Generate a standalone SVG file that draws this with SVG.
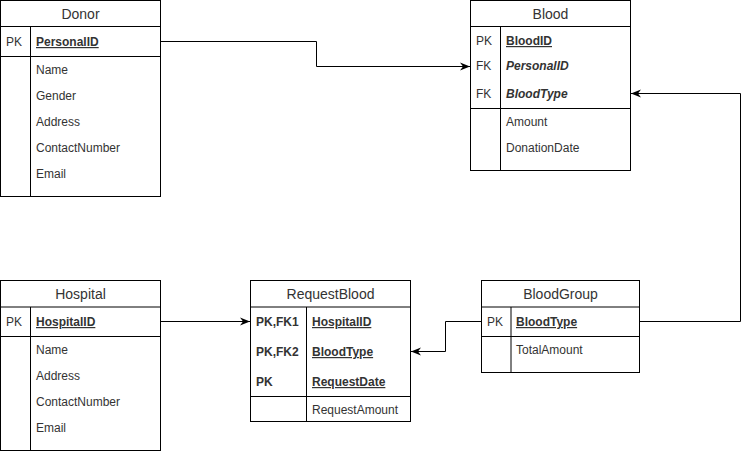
<svg xmlns="http://www.w3.org/2000/svg" width="749" height="451" viewBox="0 0 749 451">
<style>
.box{fill:#ffffff;stroke:#000000;stroke-width:1}
.ln{stroke:#000000;stroke-width:1;fill:none}
text{font-family:"Liberation Sans",Arial,sans-serif;font-size:12px;fill:#000000}
.t{font-size:14px;text-anchor:middle;fill:#333333}
.k{fill:#333333}
.f{fill:#333333}
.pk{font-weight:bold;text-decoration:underline}
.fk{font-weight:bold;font-style:italic}
.b{font-weight:bold}
.conn{stroke:#000000;stroke-width:1;fill:none}
</style>
<defs>
<marker id="arr" viewBox="0 0 10 10" refX="10" refY="5" markerWidth="10" markerHeight="10" markerUnits="userSpaceOnUse" orient="auto">
<path d="M0,1 L10,5 L0,9 L3,5 Z" fill="#000000"/>
</marker>
</defs>
<rect width="749" height="451" fill="#ffffff"/>

<g id="Donor">
<rect class="box" x="0.5" y="0.5" width="160" height="196"/>
<line class="ln" x1="0.5" y1="26.5" x2="160.5" y2="26.5"/>
<line class="ln" x1="0.5" y1="56.5" x2="160.5" y2="56.5"/>
<line class="ln" x1="30.5" y1="26.5" x2="30.5" y2="196.5"/>
<text class="t" x="80.5" y="19">Donor</text>
<text class="k" x="6" y="46">PK</text>
<text class="f pk" x="36" y="46">PersonalID</text>
<text class="f" x="36" y="74">Name</text>
<text class="f" x="36" y="100">Gender</text>
<text class="f" x="36" y="126">Address</text>
<text class="f" x="36" y="152">ContactNumber</text>
<text class="f" x="36" y="178">Email</text>
</g>

<g id="Blood">
<rect class="box" x="470.5" y="0.5" width="160" height="170"/>
<line class="ln" x1="470.5" y1="26.5" x2="630.5" y2="26.5"/>
<line class="ln" x1="470.5" y1="108.5" x2="630.5" y2="108.5"/>
<line class="ln" x1="500.5" y1="26.5" x2="500.5" y2="170.5"/>
<text class="t" x="550.5" y="19">Blood</text>
<text class="k" x="476" y="45">PK</text>
<text class="f pk" x="506" y="45">BloodID</text>
<text class="k" x="476" y="70">FK</text>
<text class="f fk" x="506" y="70">PersonalID</text>
<text class="k" x="476" y="98">FK</text>
<text class="f fk" x="506" y="98">BloodType</text>
<text class="f" x="506" y="126">Amount</text>
<text class="f" x="506" y="152">DonationDate</text>
</g>

<g id="Hospital">
<rect class="box" x="0.5" y="280.5" width="160" height="170"/>
<line class="ln" x1="0.5" y1="307" x2="160.5" y2="307"/>
<line class="ln" x1="0.5" y1="336.5" x2="160.5" y2="336.5"/>
<line class="ln" x1="30.5" y1="307" x2="30.5" y2="450.5"/>
<text class="t" x="80.5" y="299">Hospital</text>
<text class="k" x="6" y="326">PK</text>
<text class="f pk" x="36" y="326">HospitalID</text>
<text class="f" x="36" y="354">Name</text>
<text class="f" x="36" y="380">Address</text>
<text class="f" x="36" y="406">ContactNumber</text>
<text class="f" x="36" y="432">Email</text>
</g>

<g id="RequestBlood">
<rect class="box" x="250.5" y="280.5" width="160" height="141"/>
<line class="ln" x1="250.5" y1="307" x2="410.5" y2="307"/>
<line class="ln" x1="250.5" y1="396.5" x2="410.5" y2="396.5"/>
<line class="ln" x1="306.5" y1="307" x2="306.5" y2="421.5"/>
<text class="t" x="330.5" y="299">RequestBlood</text>
<text class="k b" x="256" y="326">PK,FK1</text>
<text class="f pk" x="312" y="326">HospitalID</text>
<text class="k b" x="256" y="356">PK,FK2</text>
<text class="f pk" x="312" y="356">BloodType</text>
<text class="k b" x="256" y="386">PK</text>
<text class="f pk" x="312" y="386">RequestDate</text>
<text class="f" x="312" y="414">RequestAmount</text>
</g>

<g id="BloodGroup">
<rect class="box" x="481.5" y="280.5" width="158" height="92"/>
<line class="ln" x1="481.5" y1="307" x2="639.5" y2="307"/>
<line class="ln" x1="481.5" y1="336.5" x2="639.5" y2="336.5"/>
<line class="ln" x1="511" y1="307" x2="511" y2="372.5"/>
<text class="t" x="560.5" y="299">BloodGroup</text>
<text class="k" x="487" y="326">PK</text>
<text class="f pk" x="516" y="326">BloodType</text>
<text class="f" x="516" y="354">TotalAmount</text>
</g>

<g id="connectors">
<path class="conn" d="M160.5,41.5 H316.5 V66.5 H470" marker-end="url(#arr)"/>
<path class="conn" d="M639.5,321.5 H740.5 V93.5 H631" marker-end="url(#arr)"/>
<path class="conn" d="M160.5,321.5 H250" marker-end="url(#arr)"/>
<path class="conn" d="M481.5,321.5 H445.5 V351.5 H411" marker-end="url(#arr)"/>
</g>
</svg>
